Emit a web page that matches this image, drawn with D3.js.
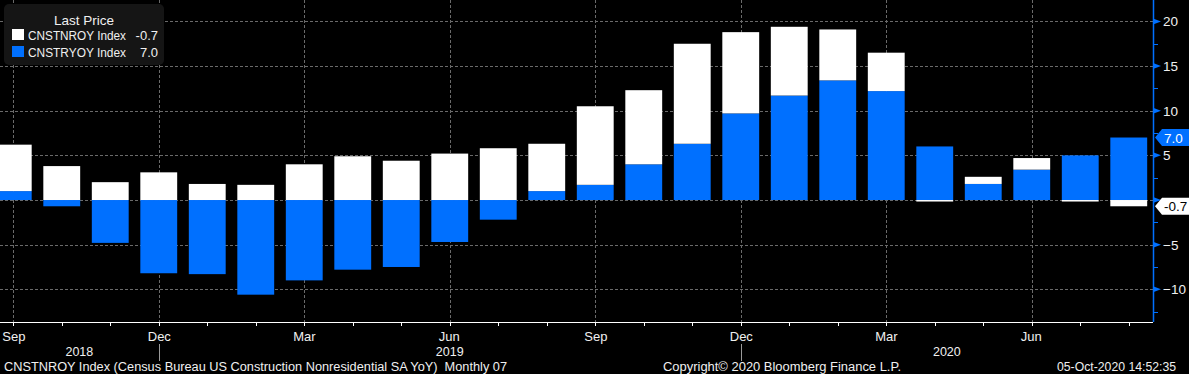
<!DOCTYPE html>
<html lang="en">
<head>
<meta charset="UTF-8">
<title>CNSTNROY / CNSTRYOY</title>
<script src="https://cdn.jsdelivr.net/npm/d3@7"></script>
<style>
  html, body { margin: 0; padding: 0; background: #000; }
  #chart { width: 1189px; height: 374px; }
  text { font-family: "Liberation Sans", Arial, sans-serif; }
</style>
</head>
<body>
<div id="chart"></div>
<script>
// monthly bars, Sep 2018 .. Aug 2020
const months = ["2018-09","2018-10","2018-11","2018-12","2019-01","2019-02","2019-03","2019-04",
  "2019-05","2019-06","2019-07","2019-08","2019-09","2019-10","2019-11","2019-12",
  "2020-01","2020-02","2020-03","2020-04","2020-05","2020-06","2020-07","2020-08"];
// CNSTRYOY (blue, drawn next to zero)
const ryoy = [1.0, -0.7, -4.8, -8.2, -8.3, -10.6, -9.0, -7.8, -7.5, -4.7, -2.2, 1.0,
  1.7, 4.0, 6.3, 9.7, 11.7, 13.4, 12.2, 6.0, 1.8, 3.4, 5.0, 7.0];
// CNSTNROY (white, stacked on top)
const nroy = [5.2, 3.8, 2.0, 3.1, 1.8, 1.7, 4.0, 4.9, 4.4, 5.2, 5.8, 5.3,
  8.8, 8.3, 11.2, 9.1, 7.7, 5.7, 4.3, -0.1, 0.8, 1.3, -0.1, -0.7];
const yTicks = [-10, -5, 0, 5, 10, 15, 20];
const monthNames = ["Jan","Feb","Mar","Apr","May","Jun","Jul","Aug","Sep","Oct","Nov","Dec"];
const lastNroy = "-0.7", lastRyoy = "7.0";

const W = 1189, H = 374;
const BLUE = "#0070ff", GRID = "#6a6a6a", TXT = "#f0f0f0";
const plot = {left: 0, right: 1153, top: 0, bottom: 322};

const svg = d3.select("#chart").append("svg")
  .attr("width", W).attr("height", H)
  .style("background", "#000");

svg.append("defs").append("clipPath").attr("id", "clip")
  .append("rect").attr("x", plot.left).attr("y", plot.top)
  .attr("width", plot.right - plot.left).attr("height", plot.bottom - plot.top);

const rows = months.map((m, i) => ({month: m, ryoy: ryoy[i], nroy: nroy[i]}));

const x = d3.scaleBand().domain(months).range([-11, plot.right])
  .paddingInner(0.24).paddingOuter(0.12);
const y = d3.scaleLinear().domain([-13.66, 22.4]).range([plot.bottom, plot.top]);
const cx = m => x(m) + x.bandwidth() / 2;

// grid
const grid = svg.append("g").attr("stroke", GRID).attr("stroke-dasharray", "3,2").attr("stroke-width", 1);
grid.selectAll(".hg").data(yTicks).join("line")
  .attr("x1", plot.left).attr("x2", plot.right)
  .attr("y1", d => Math.round(y(d)) + 0.5).attr("y2", d => Math.round(y(d)) + 0.5);
const quarterMonths = months.filter(m => (+m.slice(5) - 3) % 3 === 0);
grid.selectAll(".vg").data(quarterMonths).join("line")
  .attr("x1", d => Math.round(cx(d)) + 0.5).attr("x2", d => Math.round(cx(d)) + 0.5)
  .attr("y1", plot.top).attr("y2", plot.bottom);

// stacked bars
const stack = d3.stack().keys(["ryoy", "nroy"]).offset(d3.stackOffsetDiverging);
const series = stack(rows);
const colors = {ryoy: BLUE, nroy: "#ffffff"};
const bars = svg.append("g").attr("clip-path", "url(#clip)");
series.forEach(s => {
  bars.append("g").attr("fill", colors[s.key])
    .selectAll("rect").data(s).join("rect")
    .attr("x", d => x(d.data.month))
    .attr("width", x.bandwidth())
    .attr("y", d => y(Math.max(d[0], d[1])))
    .attr("height", d => Math.max(Math.abs(y(d[0]) - y(d[1])), Math.abs(d[1] - d[0]) > 0 ? 1.5 : 0));
});

// legend
const lg = svg.append("g").attr("transform", "translate(4,4)");
lg.append("rect").attr("width", 160).attr("height", 61).attr("rx", 5).attr("fill", "#151515");
lg.append("text").attr("x", 80).attr("y", 21).attr("text-anchor", "middle")
  .attr("fill", TXT).attr("font-size", 13.5).text("Last Price");
const legendItems = [
  {name: "CNSTNROY Index", color: "#ffffff", val: lastNroy},
  {name: "CNSTRYOY Index", color: BLUE, val: lastRyoy}
];
legendItems.forEach((d, i) => {
  const gy = 25 + i * 17;
  lg.append("rect").attr("x", 8).attr("y", gy).attr("width", 12).attr("height", 11).attr("fill", d.color);
  lg.append("text").attr("x", 24).attr("y", gy + 10.5).attr("fill", TXT).attr("font-size", 12.5)
    .attr("textLength", 98).attr("lengthAdjust", "spacingAndGlyphs").text(d.name);
  lg.append("text").attr("x", 154).attr("y", gy + 10.5).attr("text-anchor", "end")
    .attr("fill", TXT).attr("font-size", 13).text(d.val);
});

// right axis
const ax = svg.append("g");
ax.append("line").attr("x1", plot.right + 0.5).attr("x2", plot.right + 0.5)
  .attr("y1", plot.top).attr("y2", plot.bottom).attr("stroke", BLUE).attr("stroke-width", 1.5);
const minor = d3.range(-12.5, 22.5, 5);
ax.selectAll(".mt").data(minor).join("line")
  .attr("x1", plot.right).attr("x2", plot.right + 5)
  .attr("y1", d => Math.round(y(d)) + 0.5).attr("y2", d => Math.round(y(d)) + 0.5)
  .attr("stroke", BLUE);
ax.selectAll(".tri").data(yTicks).join("path")
  .attr("d", d => { const t = y(d); return `M${plot.right},${t - 3}L${plot.right + 8},${t}L${plot.right},${t + 3}Z`; })
  .attr("fill", BLUE);
// the 0 label sits under the last-value flag, so it is not drawn
ax.selectAll(".tl").data(yTicks.filter(d => d !== 0)).join("text")
  .attr("x", plot.right + 10).attr("y", d => y(d) + 5)
  .attr("fill", TXT).attr("font-size", 13.5)
  .text(d => d < 0 ? "\u2212" + Math.abs(d) : d);

// last value markers
function marker(v, label, fill, color) {
  const t = y(+v);
  const g = svg.append("g");
  g.append("path")
    .attr("d", `M${plot.right + 2},${t}L${plot.right + 9},${t - 8.5}H${W}V${t + 8.5}H${plot.right + 9}Z`)
    .attr("fill", fill);
  g.append("text").attr("x", plot.right + 11).attr("y", t + 5)
    .attr("fill", color).attr("font-size", 13.5).text(label);
}
marker(lastNroy, lastNroy, "#ffffff", "#000");
marker(lastRyoy, lastRyoy, BLUE, "#ffffff");

// bottom axis
const bx = svg.append("g");
bx.append("line").attr("x1", plot.left).attr("x2", plot.right)
  .attr("y1", plot.bottom + 0.5).attr("y2", plot.bottom + 0.5).attr("stroke", "#fff");
bx.selectAll(".bt").data(months).join("line")
  .attr("x1", d => Math.round(cx(d)) + 0.5).attr("x2", d => Math.round(cx(d)) + 0.5)
  .attr("y1", plot.bottom).attr("y2", plot.bottom + 4).attr("stroke", "#fff");
bx.selectAll(".ml").data(quarterMonths).join("text")
  .attr("x", d => Math.max(2, cx(d) - 11)).attr("y", 340.5)
  .attr("fill", TXT).attr("font-size", 13)
  .text(d => monthNames[+d.slice(5) - 1]);

// year separators at December ticks, year labels centred between
const decs = months.filter(m => m.slice(5) === "12");
bx.selectAll(".ys").data(decs).join("line")
  .attr("x1", d => Math.round(cx(d)) + 0.5).attr("x2", d => Math.round(cx(d)) + 0.5)
  .attr("y1", 344).attr("y2", 361).attr("stroke", "#9a9a9a");
const years = ["2018", "2019", "2020"];
const bounds = [plot.left].concat(decs.map(cx), [plot.right]);
bx.selectAll(".yl").data(years).join("text")
  .attr("x", (d, i) => (bounds[i] + bounds[i + 1]) / 2).attr("y", 355.5)
  .attr("text-anchor", "middle").attr("fill", TXT).attr("font-size", 12.5).text(d => d);

// footer
const ft = svg.append("g").attr("fill", TXT).attr("font-size", 12.5);
ft.append("text").attr("x", 4).attr("y", 370.5)
  .attr("textLength", 503).attr("lengthAdjust", "spacingAndGlyphs")
  .text("CNSTNROY Index (Census Bureau US Construction Nonresidential SA YoY)  Monthly 07")
  .attr("xml:space", "preserve").style("white-space", "pre");
ft.append("text").attr("x", 663).attr("y", 370.5)
  .attr("textLength", 238).attr("lengthAdjust", "spacingAndGlyphs")
  .text("Copyright\u00a9 2020 Bloomberg Finance L.P.");
ft.append("text").attr("x", 1057).attr("y", 370.5)
  .attr("textLength", 119).attr("lengthAdjust", "spacingAndGlyphs")
  .text("05-Oct-2020 14:52:35");
</script>
</body>
</html>
